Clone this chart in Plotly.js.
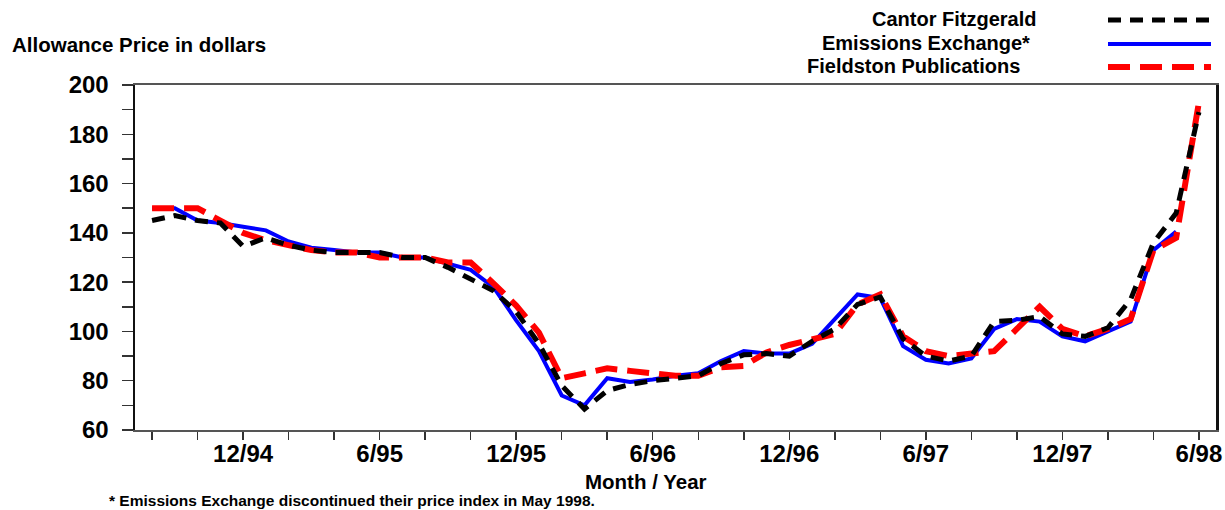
<!DOCTYPE html>
<html>
<head>
<meta charset="utf-8">
<script src="https://cdn.plot.ly/plotly-3.0.1.min.js"></script>
<style>
  html, body { margin: 0; padding: 0; background: #fff; }
  #chart { width: 1225px; height: 510px; }
</style>
</head>
<body>
<div id="chart"></div>
<script>
// ---- Data ----
const months = [
  '8/94','9/94','10/94','11/94','12/94',
  '1/95','2/95','3/95','4/95','5/95','6/95','7/95','8/95','9/95','10/95','11/95','12/95',
  '1/96','2/96','3/96','4/96','5/96','6/96','7/96','8/96','9/96','10/96','11/96','12/96',
  '1/97','2/97','3/97','4/97','5/97','6/97','7/97','8/97','9/97','10/97','11/97','12/97',
  '1/98','2/98','3/98','4/98','5/98','6/98'
];

const cantorFitzgerald = [
  145, 147, 145, 144, 134.5,
  138, 135, 133, 132, 132, 132, 130, 130, 126, 121.5, 116.5, 108,
  95, 78, 68.5, 76, 78.5, 80, 81, 82, 87, 90.5, 91, 90,
  96, 101, 111, 114, 97, 90, 88, 90, 104, 104.5, 106, 99,
  98, 101.5, 113, 136, 148, 189
];

const emissionsExchange = [
  150, 150, 145, 144, 142.5,
  141, 136.5, 134, 133, 132, 132, 130, 130, 127.5, 125, 118, 104.5,
  92, 74, 70, 81, 79.5, 80.5, 82, 83, 88, 92, 91, 91,
  95, 105, 115, 113.5, 94, 88.5, 87, 89, 101, 105, 104, 98,
  96, 100, 104, 133, 140.5, null
];

const fieldstonPublications = [
  150, 150, 150, 145, 140,
  137, 135, 133, 132, 132, 130, 130, 130, 128, 128, 119.5, 110.5,
  99.5, 81, 83, 85, 84, 83, 82, 82, 85.5, 86, 91.5, 94.5,
  96.5, 99, 111, 115, 98, 92, 90, 91, 92, 101, 110, 101,
  98, 101, 105, 133, 138, 193
];

const seriesNames = ['Cantor Fitzgerald', 'Emissions Exchange*', 'Fieldston Publications'];
const labeledMonths = ['12/94','6/95','12/95','6/96','12/96','6/97','12/97','6/98'];
const yTickValues = [60,70,80,90,100,110,120,130,140,150,160,170,180,190,200];
const yTickLabels = ['60','','80','','100','','120','','140','','160','','180','','200'];

const yTitle = 'Allowance Price in dollars';
const xTitle = 'Month / Year';
const footnote = '* Emissions Exchange discontinued their price index in May 1998.';

// ---- Layout helpers ----
const W = 1225, H = 510;
const margin = { l: 135, r: 9, t: 85, b: 80, pad: 0 };
const px = x => (x - margin.l) / (W - margin.l - margin.r);
const py = y => (H - margin.b - y) / (H - margin.t - margin.b);

const FONT = 'Liberation Sans, Arial, Helvetica, sans-serif';

const xIdx = months.map((m, i) => i);
const xTickVals = xIdx.filter(i => i % 2 === 0);
const xTickText = xTickVals.map(i => labeledMonths.includes(months[i]) ? months[i] : '');

const styles = [
  { color: '#000000', width: 5, dash: '13px,9px' },
  { color: '#0000ff', width: 4, dash: 'solid' },
  { color: '#ff0000', width: 6, dash: '22px,10px' }
];
const values = [cantorFitzgerald, emissionsExchange, fieldstonPublications];

const order = [1, 2, 0];
const traces = order.map(k => ({
  x: xIdx,
  y: values[k],
  type: 'scatter',
  mode: 'lines',
  name: seriesNames[k],
  line: { color: styles[k].color, width: styles[k].width, dash: styles[k].dash },
  connectgaps: false,
  cliponaxis: false,
  hoverinfo: 'x+y'
}));

const legendRows = [
  { textRight: 1038, y: 19 },
  { textRight: 1032, y: 43 },
  { textRight: 1022, y: 66 }
];

const annotations = [
  { text: yTitle, x: px(10), y: py(44), xanchor: 'left', yanchor: 'middle', size: 20.5 },
  { text: xTitle, x: px(646), y: py(481), xanchor: 'center', yanchor: 'middle', size: 20.5 },
  { text: footnote, x: px(107), y: py(500), xanchor: 'left', yanchor: 'middle', size: 15.5 }
].map(a => ({
  text: a.text, x: a.x, y: a.y, xref: 'paper', yref: 'paper',
  xanchor: a.xanchor, yanchor: a.yanchor, showarrow: false,
  font: { family: FONT, size: a.size, color: '#000', weight: 'bold' }
}));

legendRows.forEach((r, k) => {
  annotations.push({
    text: seriesNames[k], x: px(r.textRight), y: py(r.y), xref: 'paper', yref: 'paper',
    xanchor: 'right', yanchor: 'middle', showarrow: false,
    font: { family: FONT, size: 20, color: '#000', weight: 'bold' }
  });
});

const shapes = legendRows.map((r, k) => ({
  type: 'line', xref: 'paper', yref: 'paper',
  x0: px(1108), x1: px(1211), y0: py(r.y + 1), y1: py(r.y + 1),
  line: { color: styles[k].color, width: styles[k].width, dash: styles[k].dash }
}));

const layout = {
  width: W, height: H,
  margin: margin,
  paper_bgcolor: '#ffffff',
  plot_bgcolor: '#ffffff',
  showlegend: false,
  font: { family: FONT, color: '#000' },
  xaxis: {
    range: [-0.75, 46.75],
    tickmode: 'array',
    tickvals: xTickVals,
    ticktext: xTickText,
    ticks: 'outside', ticklen: 8, tickwidth: 1.5, tickcolor: '#333',
    showline: true, linecolor: '#555', linewidth: 2, mirror: true,
    showgrid: false, zeroline: false,
    ticklabelstandoff: -7,
    tickfont: { family: FONT, size: 24, color: '#000', weight: 'bold' }
  },
  yaxis: {
    range: [60, 200],
    tickmode: 'array',
    tickvals: yTickValues,
    ticktext: yTickLabels,
    ticks: 'outside', ticklen: 11, tickwidth: 1.5, tickcolor: '#333',
    showline: true, linecolor: '#111', linewidth: 2.5, mirror: true,
    showgrid: false, zeroline: false,
    ticklabelstandoff: 8,
    tickfont: { family: FONT, size: 24, color: '#000', weight: 'bold' }
  },
  annotations: annotations,
  shapes: shapes
};

Plotly.newPlot('chart', traces, layout, { staticPlot: true, displayModeBar: false });
</script>
</body>
</html>
